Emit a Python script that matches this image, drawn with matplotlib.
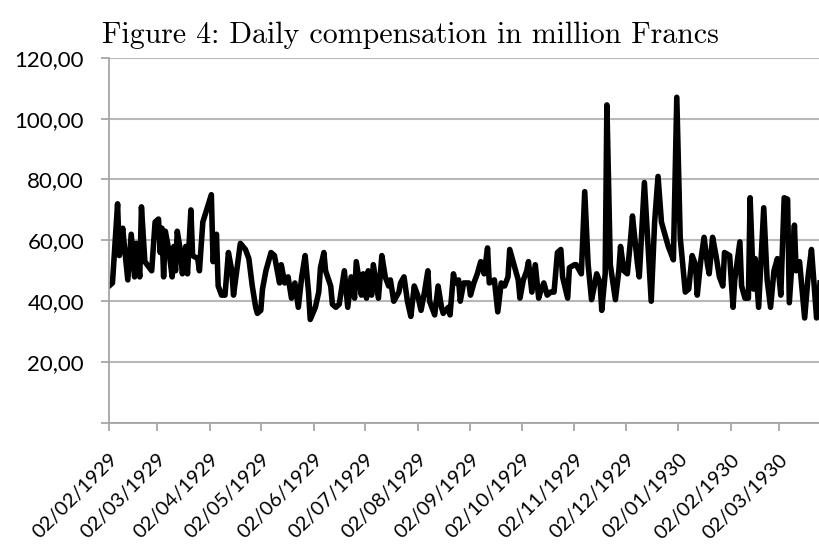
import matplotlib.pyplot as plt
import pandas as pd

# days counted from 02/02/1929, values in million Francs
days = [0, 2, 5, 6, 8, 9, 11, 13, 15, 16, 18, 19, 21, 25, 27, 29, 30, 31, 32, 33,
        35, 37, 38, 39, 40, 42, 43, 45, 46, 48, 49, 52, 53, 55, 60, 61, 63, 64, 66, 68,
        70, 72, 73, 77, 80, 82, 84, 86, 87, 89, 90, 92, 95, 97, 100, 101, 103, 105, 107, 109,
        111, 113, 115, 117, 118, 121, 123, 124, 126, 127, 130, 131, 133, 135, 138, 140, 142, 144, 145, 148,
        149, 151, 152, 154, 155, 158, 160, 162, 164, 165, 167, 170, 171, 173, 175, 177, 179, 181, 183, 185,
        187, 188, 191, 193, 195, 196, 199, 200, 202, 203, 205, 206, 208, 211, 212, 214, 216, 218, 220, 222,
        223, 226, 228, 230, 232, 234, 235, 238, 240, 241, 243, 245, 246, 248, 250, 252, 253, 255, 257, 259,
        261, 263, 265, 266, 269, 270, 273, 274, 277, 279, 281, 283, 285, 286, 288, 289, 291, 292, 294, 297,
        299, 300, 302, 304, 306, 307, 310, 311, 314, 317, 318, 320, 322, 324, 327, 328, 331, 333, 335, 338,
        340, 342, 344, 345, 347, 349, 351, 352, 354, 356, 358, 360, 361, 364, 366, 367, 370, 371, 373, 375,
        376, 378, 379, 381, 384, 386, 388, 390, 392, 394, 396, 398, 399, 402, 403, 405, 408, 410, 412, 415,
        416, 417]
values = [45, 46, 72, 55, 64, 58, 47, 62, 48, 59, 48, 71, 53, 50, 66, 67, 56, 64, 48, 63,
          57, 48, 58, 50, 63, 56, 49, 58, 49, 70, 55, 54, 50, 66, 75, 53, 62, 45, 42, 42,
          56, 50, 42, 59, 57, 54, 45, 38, 36, 37, 44, 50, 56, 55, 46, 52, 46, 48, 41, 46,
          38, 48, 55, 43, 34, 38, 43, 51, 56, 50, 45, 39, 38, 39, 50, 38, 48, 41, 53, 42,
          49, 41, 50, 42, 52, 41, 55, 48, 45, 47, 40, 43, 46, 48, 40, 35, 45, 42, 37, 43,
          50, 40, 35.5, 45, 38, 36, 38, 35.5, 49, 46, 47, 40, 46, 46, 42, 46, 49, 53, 49, 57.5,
          46, 47, 36.5, 46, 45, 48, 57, 51, 47, 41, 47, 50, 53, 43, 52, 41, 43, 46, 42, 43,
          43, 56, 57, 48, 41, 51, 52, 52, 49, 76, 52, 40.5, 46, 49, 46, 37, 49, 104.5, 52, 40.5,
          50, 58, 50, 49, 61, 68, 52, 48, 79, 50, 40, 66, 81, 66, 60, 58, 53.6, 107, 61, 43,
          44, 55, 52, 42, 53, 61, 52, 49, 61, 55, 48, 45, 56, 55, 38, 47, 59.5, 45, 41, 41,
          74, 44, 54, 38, 70.7, 47, 38, 50, 54, 42, 74, 73.5, 39.5, 65, 50, 53, 34.5, 48, 57, 34.5,
          38, 46]

y_ticks = [0, 20, 40, 60, 80, 100, 120]

start = pd.Timestamp('1929-02-02')
dates = start + pd.to_timedelta(days, unit='D')
tick_dates = pd.date_range('1929-02-01', '1930-03-01', freq='MS') + pd.Timedelta(days=1)

fig = plt.figure(figsize=(8.2, 5.5), dpi=100)
ax = fig.add_axes([0.133, 0.231, 0.867, 0.664])

ax.plot(dates, values, color='black', lw=4, solid_joinstyle='round')

ax.set_xlim(start, start + pd.Timedelta(days=417))
ax.set_ylim(0, 120)

ax.set_yticks(y_ticks)
ax.set_yticklabels(['' if v == 0 else f'{v:.2f}'.replace('.', ',') for v in y_ticks],
                   fontsize=16, family='Lato')
ax.set_xticks(tick_dates)
ax.set_xticklabels([d.strftime('%d/%m/%Y') for d in tick_dates], rotation=45,
                   ha='right', rotation_mode='anchor', fontsize=14.5, family='Lato')

ax.grid(axis='y', color='#b8b8b8', lw=1.5)
ax.set_axisbelow(True)
for side in ['top', 'right']:
    ax.spines[side].set_visible(False)
for side in ['left', 'bottom']:
    ax.spines[side].set_color('#a6a6a6')
    ax.spines[side].set_linewidth(1.3)
ax.tick_params(axis='y', length=6, width=1.3, color='#a6a6a6', pad=12)
ax.tick_params(axis='x', length=6, width=1.3, color='#a6a6a6', pad=14)

fig.text(0.5, 0.936, 'Figure 4: Daily compensation in million Francs',
         family='cmr10', fontsize=21.5, ha='center', va='center')

fig.savefig('out.png', dpi=100)
